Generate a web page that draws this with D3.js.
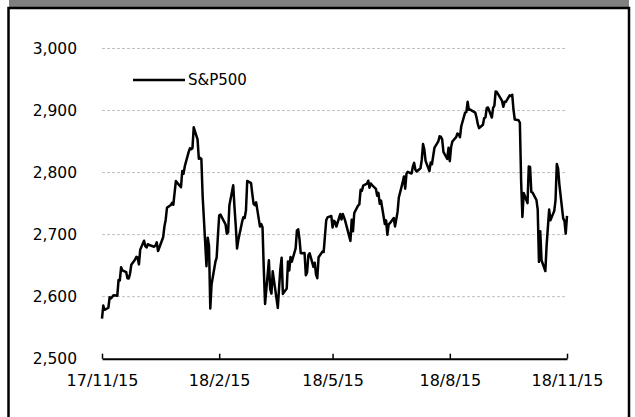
<!DOCTYPE html>
<html><head><meta charset="utf-8">
<script src="https://cdn.jsdelivr.net/npm/d3@7"></script>
<style>body{margin:0;background:#fff}svg{display:block}</style>
</head><body><svg id="c" width="635" height="417"></svg>
<script>
const dates = ["2017-11-15","2017-11-16","2017-11-17","2017-11-20","2017-11-21","2017-11-22","2017-11-24","2017-11-27","2017-11-28","2017-11-29","2017-11-30",
"2017-12-01","2017-12-04","2017-12-05","2017-12-06","2017-12-07","2017-12-08","2017-12-11","2017-12-12","2017-12-13","2017-12-14","2017-12-15","2017-12-18","2017-12-19","2017-12-20","2017-12-21","2017-12-22","2017-12-26","2017-12-27","2017-12-28","2017-12-29",
"2018-01-02","2018-01-03","2018-01-04","2018-01-05","2018-01-08","2018-01-09","2018-01-10","2018-01-11","2018-01-12","2018-01-16","2018-01-17","2018-01-18","2018-01-19","2018-01-22","2018-01-23","2018-01-24","2018-01-25","2018-01-26","2018-01-29","2018-01-30","2018-01-31",
"2018-02-01","2018-02-02","2018-02-05","2018-02-06","2018-02-07","2018-02-08","2018-02-09","2018-02-12","2018-02-13","2018-02-14","2018-02-15","2018-02-16","2018-02-20","2018-02-21","2018-02-22","2018-02-23","2018-02-26","2018-02-27","2018-02-28",
"2018-03-01","2018-03-02","2018-03-05","2018-03-06","2018-03-07","2018-03-08","2018-03-09","2018-03-12","2018-03-13","2018-03-14","2018-03-15","2018-03-16","2018-03-19","2018-03-20","2018-03-21","2018-03-22","2018-03-23","2018-03-26","2018-03-27","2018-03-28","2018-03-29",
"2018-04-02","2018-04-03","2018-04-04","2018-04-05","2018-04-06","2018-04-09","2018-04-10","2018-04-11","2018-04-12","2018-04-13","2018-04-16","2018-04-17","2018-04-18","2018-04-19","2018-04-20","2018-04-23","2018-04-24","2018-04-25","2018-04-26","2018-04-27","2018-04-30",
"2018-05-01","2018-05-02","2018-05-03","2018-05-04","2018-05-07","2018-05-08","2018-05-09","2018-05-10","2018-05-11","2018-05-14","2018-05-15","2018-05-16","2018-05-17","2018-05-18","2018-05-21","2018-05-22","2018-05-23","2018-05-24","2018-05-25","2018-05-29","2018-05-30","2018-05-31",
"2018-06-01","2018-06-04","2018-06-05","2018-06-06","2018-06-07","2018-06-08","2018-06-11","2018-06-12","2018-06-13","2018-06-14","2018-06-15","2018-06-18","2018-06-19","2018-06-20","2018-06-21","2018-06-22","2018-06-25","2018-06-26","2018-06-27","2018-06-28","2018-06-29",
"2018-07-02","2018-07-03","2018-07-05","2018-07-06","2018-07-09","2018-07-10","2018-07-11","2018-07-12","2018-07-13","2018-07-16","2018-07-17","2018-07-18","2018-07-19","2018-07-20","2018-07-23","2018-07-24","2018-07-25","2018-07-26","2018-07-27","2018-07-30","2018-07-31",
"2018-08-01","2018-08-02","2018-08-03","2018-08-06","2018-08-07","2018-08-08","2018-08-09","2018-08-10","2018-08-13","2018-08-14","2018-08-15","2018-08-16","2018-08-17","2018-08-20","2018-08-21","2018-08-22","2018-08-23","2018-08-24","2018-08-27","2018-08-28","2018-08-29","2018-08-30","2018-08-31",
"2018-09-04","2018-09-05","2018-09-06","2018-09-07","2018-09-10","2018-09-11","2018-09-12","2018-09-13","2018-09-14","2018-09-17","2018-09-18","2018-09-19","2018-09-20","2018-09-21","2018-09-24","2018-09-25","2018-09-26","2018-09-27","2018-09-28",
"2018-10-01","2018-10-02","2018-10-03","2018-10-04","2018-10-05","2018-10-08","2018-10-09","2018-10-10","2018-10-11","2018-10-12","2018-10-15","2018-10-16","2018-10-17","2018-10-18","2018-10-19","2018-10-22","2018-10-23","2018-10-24","2018-10-25","2018-10-26","2018-10-29","2018-10-30","2018-10-31",
"2018-11-01","2018-11-02","2018-11-05","2018-11-06","2018-11-07","2018-11-08","2018-11-09","2018-11-12","2018-11-13","2018-11-14","2018-11-15"];
const sp500 = [2564.62,2585.64,2578.85,2582.14,2599.03,2597.08,2602.42,2601.42,2627.04,2626.07,2647.58,
2642.22,2639.44,2629.57,2629.27,2636.98,2651.50,2659.99,2664.11,2662.85,2652.01,2675.81,2690.16,2681.47,2679.25,2684.57,2683.34,2680.50,2682.62,2687.54,2673.61,
2695.81,2713.06,2723.99,2743.15,2747.71,2751.29,2748.23,2767.56,2786.24,2776.42,2802.56,2798.03,2810.30,2832.97,2839.13,2837.54,2839.25,2872.87,2853.53,2822.43,2823.81,
2821.98,2762.13,2648.94,2695.14,2681.66,2581.00,2619.55,2656.00,2662.94,2698.63,2731.20,2732.22,2716.26,2701.33,2703.96,2747.30,2779.60,2744.28,2713.83,
2677.67,2691.25,2720.94,2728.12,2726.80,2738.97,2786.57,2783.02,2765.31,2749.48,2747.33,2752.01,2712.92,2716.94,2711.93,2643.69,2588.26,2658.55,2612.62,2605.00,2640.87,
2581.88,2614.45,2644.69,2662.84,2604.47,2613.16,2656.87,2642.19,2663.99,2656.30,2677.84,2706.39,2708.64,2693.13,2670.14,2670.29,2634.56,2639.40,2666.94,2669.91,2648.05,
2654.80,2635.67,2629.73,2663.42,2672.63,2671.92,2697.79,2723.07,2727.72,2730.13,2711.45,2722.46,2720.13,2712.97,2733.01,2724.44,2733.29,2727.76,2721.33,2689.86,2724.01,2705.27,
2734.62,2746.87,2748.80,2772.35,2770.37,2779.03,2782.00,2786.85,2775.63,2782.49,2779.66,2773.75,2762.59,2767.32,2749.76,2754.88,2717.07,2723.06,2699.63,2716.31,2718.37,
2726.71,2713.22,2736.61,2759.82,2784.17,2793.84,2774.02,2798.29,2801.31,2798.43,2809.55,2815.62,2804.49,2801.83,2806.98,2820.40,2846.07,2837.44,2818.82,2802.60,2816.29,
2813.36,2827.22,2840.35,2850.40,2858.45,2857.70,2853.58,2833.28,2821.93,2839.96,2818.37,2840.69,2850.13,2857.05,2862.96,2861.82,2856.98,2874.69,2896.74,2897.52,2914.04,2901.13,2901.52,
2896.72,2888.60,2878.05,2871.68,2877.13,2887.89,2888.92,2904.18,2904.98,2888.80,2904.31,2907.95,2930.75,2929.67,2919.37,2915.56,2905.97,2914.00,2913.98,
2924.59,2923.43,2925.51,2901.61,2885.57,2884.43,2880.34,2785.68,2728.37,2767.13,2750.79,2809.92,2809.21,2768.78,2767.78,2755.88,2740.69,2656.10,2705.57,2658.69,2641.25,2682.63,2711.74,
2740.37,2723.06,2738.31,2755.45,2813.89,2806.83,2781.01,2726.22,2722.18,2701.58,2730.20];
const yTicks = [2500, 2600, 2700, 2800, 2900, 3000];
const xTicks = ["2017-11-15","2018-02-15","2018-05-15","2018-08-15","2018-11-15"];
const seriesName = "S&P500";

const parse = d3.timeParse("%Y-%m-%d");
const data = dates.map((d,i)=>({date:parse(d), v:sp500[i]}));
const svg = d3.select("#c");
const FONT = "'DejaVu Sans', Verdana, sans-serif";

// frame
svg.append("rect").attr("x",9).attr("y",0).attr("width",620).attr("height",7).attr("fill","#808080");
svg.append("rect").attr("x",8.5).attr("y",8).attr("width",620.5).attr("height",420)
  .attr("fill","none").attr("stroke","#000").attr("stroke-width",2.5);

const x = d3.scaleTime().domain([parse(xTicks[0]), parse(xTicks[xTicks.length-1])]).range([102, 567]);
const y = d3.scaleLinear().domain([2500, 3000]).range([358.7, 48.5]);

// gridlines
svg.append("g").selectAll("line").data(yTicks.filter(t=>t>2500)).join("line")
  .attr("x1",102).attr("x2",567).attr("y1",d=>y(d)).attr("y2",d=>y(d))
  .attr("stroke","#c0c0c0").attr("stroke-width",1).attr("stroke-dasharray","3,2");

// y labels
const yAxis = d3.axisLeft(y).tickValues(yTicks).tickSize(0).tickPadding(0).tickFormat(d3.format(","));
const gy = svg.append("g").attr("transform","translate(77,0)").call(yAxis);
gy.select(".domain").remove();
gy.selectAll("text").attr("font-family",FONT).attr("font-size","15.5px").attr("fill","#000");

// x axis
const fmt = d3.timeFormat("%y/%-m/%-d");
const xAxis = d3.axisTop(x).tickValues(xTicks.map(parse)).tickSize(5).tickSizeOuter(0).tickFormat(fmt);
const gx = svg.append("g").attr("transform",`translate(0,${y(2500)})`).call(xAxis);
gx.select(".domain").attr("stroke","#000").attr("stroke-width",2);
gx.selectAll(".tick line").attr("stroke","#000").attr("stroke-width",1.5);
gx.selectAll("text").attr("transform","translate(0,35)").attr("font-family",FONT).attr("font-size","16px").attr("fill","#000");

// line
const line = d3.line().x(d=>x(d.date)).y(d=>y(d.v));
svg.append("path").datum(data).attr("d",line).attr("fill","none")
  .attr("stroke","#000").attr("stroke-width",2.5).attr("stroke-linejoin","round");

// legend
svg.append("line").attr("x1",133).attr("x2",185).attr("y1",80).attr("y2",80).attr("stroke","#000").attr("stroke-width",2.5);
svg.append("text").attr("x",188).attr("y",80).attr("dy","0.35em").attr("font-family",FONT).attr("font-size","15px").text(seriesName);
</script></body></html>
